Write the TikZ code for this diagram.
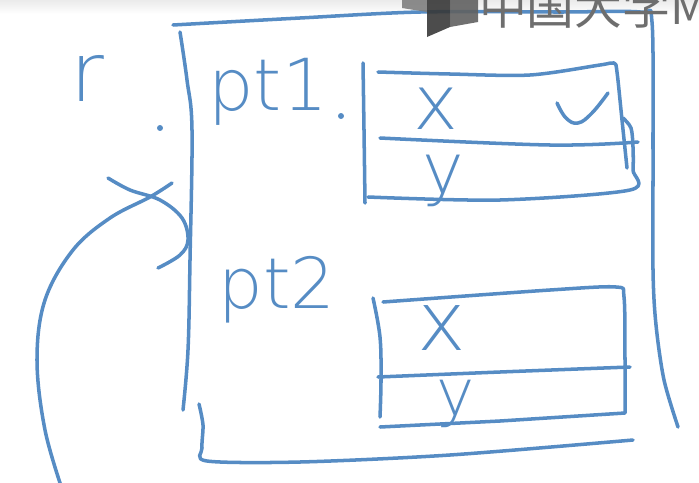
\documentclass[tikz,border=0pt]{standalone}
\usepackage{fontspec}
\newfontfamily\handfont{DejaVu Sans ExtraLight}
\newfontfamily\cjkfont{Noto Sans CJK SC}
\definecolor{penblue}{RGB}{86,140,196}
\definecolor{markgray}{RGB}{110,110,110}
\begin{document}
\begin{tikzpicture}
    [x=0.05cm, y=-0.05cm,
    ink/.style={draw=penblue, line width=5pt, line cap=round, line join=round},
    hand/.style={inner sep=0pt, text=penblue, font=\handfont\fontsize{#1}{#1}\selectfont},
    inkdot/.style={inner sep=0pt, circle, fill=penblue, minimum size=8.5pt}]
        \useasboundingbox (0,0) rectangle (699,482);
        \clip (0,0) rectangle (699,482);
        \shade[top color=black!8, bottom color=white] (0,0) rectangle (699,14);

        %% Labels
        \node[hand=117pt] (r) at (87,78) {r};
        \node[inkdot] (rdot) at (160,128) {};
        \node[hand=102pt] (pt1) at (268,92) {pt1};
        \node[inkdot] (pt1dot) at (341,116) {};
        \node[hand=100pt] (pt2) at (277,290) {pt2};
        \node[hand=108pt] (x1) at (436,109) {x};
        \node[hand=100pt] (y1) at (443,181) {y};
        \node[hand=117pt] (x2) at (442,328) {x};
        \node[hand=92pt] (y2) at (456,404) {y};

        %% Outer struct r
        \draw[ink] plot[smooth, tension=0.5] coordinates {(173,25) (300,18) (420,12) (560,12) (640,12) (652,22) (653,150) (653,270) (656,325) (664,380) (678,427)};
        \draw[ink] plot[smooth, tension=0.6] coordinates {(180,32) (187,80) (192,130) (190,260) (188,350) (183,410)};
        \draw[ink] plot[smooth, tension=0.5] coordinates {(199,404) (203,425) (202,448) (207,461) (300,462) (450,455) (633,440)};

        %% Inner struct pt1
        \draw[ink] plot[smooth, tension=0.6] coordinates {(363,63) (364,130) (365,203)};
        \draw[ink] plot[smooth, tension=0.5] coordinates {(378,72) (450,74) (530,75) (600,65) (614,63) (617,72) (622,120) (627,168)};
        \draw[ink] plot[smooth, tension=0.6] coordinates {(380,138) (550,145) (638,142)};
        \draw[ink] plot[smooth, tension=0.5] coordinates {(368,197) (500,200) (630,190) (633,170) (633,147) (631,128) (623,118)};
        \draw[ink] plot[smooth, tension=0.7] coordinates {(557,103) (566,118) (578,123) (592,113) (608,93)};

        %% Inner struct pt2
        \draw[ink] plot[smooth, tension=0.6] coordinates {(373,298) (380,337) (381,380) (380,417)};
        \draw[ink] plot[smooth, tension=0.5] coordinates {(383,302) (550,290) (616,287) (624,297) (625,360) (625,413)} -- (500,421) -- (380,427);
        \draw[ink] plot[smooth, tension=0.6] coordinates {(378,377) (500,372) (630,367)};

        %% Pointer curve into r
        \coordinate (tail) at (63,492);
        \coordinate (head) at (172,183);
        \draw[ink] plot[smooth, tension=0.6] coordinates {(tail) (45,430) (37,360) (45,300) (73,250) (110,218) (150,197) (head)};
        \draw[ink] plot[smooth, tension=0.6] coordinates {(108,178) (130,190) (160,200) (182,218) (188,240) (180,255) (158,268)};

        %% Watermark
        \begin{scope}[opacity=0.9]
            \fill[black!50] (402,0) -- (427,0) -- (427,12) -- (402,8) -- cycle;
            \fill[black!78] (427,0) -- (450,0) -- (450,27) -- (427,37) -- cycle;
            \fill[black!62] (450,0) -- (478,0) -- (478,22) -- (450,27) -- cycle;
        \end{scope}
        \node[anchor=base west, inner sep=0pt, text=markgray, font=\cjkfont\fontsize{68pt}{68pt}\selectfont] (mooc) at (479,24) {中国大学MOOC};
    \end{tikzpicture}
\end{document}
